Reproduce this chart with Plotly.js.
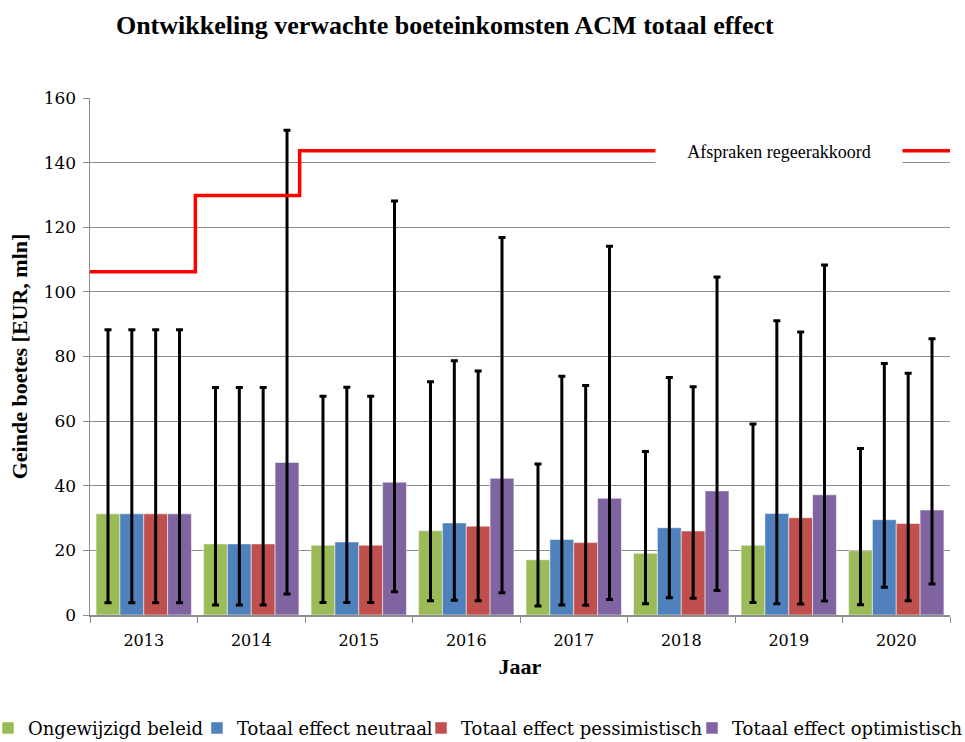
<!DOCTYPE html>
<html>
<head>
<meta charset="utf-8">
<script src="https://cdn.plot.ly/plotly-3.0.1.min.js"></script>
<style>html,body{margin:0;padding:0;background:#fff;}#chart{width:965px;height:742px;}</style>
</head>
<body>
<div id="chart"></div>
<script>
// ---- data ----
const years = [2013, 2014, 2015, 2016, 2017, 2018, 2019, 2020];
const yearLabels = ['2013', '2014', '2015', '2016', '2017', '2018', '2019', '2020'];

const ongewijzigd     = [31.3, 22.0, 21.6, 26.1, 17.1, 19.1, 21.6, 19.9];
const ongewijzigdLow  = [3.8, 3.1, 3.9, 4.4, 2.8, 3.5, 3.9, 3.2];
const ongewijzigdHigh = [88.3, 70.4, 67.7, 72.2, 46.7, 50.6, 59.1, 51.5];

const neutraal     = [31.3, 22.0, 22.6, 28.5, 23.4, 27.0, 31.4, 29.5];
const neutraalLow  = [3.8, 3.1, 3.9, 4.6, 3.1, 5.3, 3.5, 8.6];
const neutraalHigh = [88.3, 70.4, 70.5, 78.7, 73.9, 73.5, 91.1, 77.8];

const pessimistisch     = [31.3, 22.0, 21.6, 27.5, 22.4, 26.0, 30.1, 28.3];
const pessimistischLow  = [3.8, 3.1, 3.9, 4.4, 3.0, 5.2, 3.4, 4.4];
const pessimistischHigh = [88.3, 70.4, 67.7, 75.5, 71.0, 70.6, 87.6, 74.8];

const optimistisch     = [31.3, 47.2, 41.1, 42.3, 36.1, 38.4, 37.2, 32.5];
const optimistischLow  = [3.8, 6.5, 7.2, 6.9, 4.8, 7.6, 4.3, 9.6];
const optimistischHigh = [88.3, 150.0, 128.1, 116.8, 114.1, 104.6, 108.3, 85.5];

// "Afspraken regeerakkoord" step line
const regeerX = [2012.5, 2013.48, 2014.45, 2020.5];
const regeerY = [106.2, 129.8, 143.7, 143.7];

// ---- build ----
function barTrace(name, vals, lo, hi, color, legendId) {
  return {
    type: 'bar', name: name, x: years, y: vals, legend: legendId,
    marker: {color: color, line: {color: 'rgba(255,255,255,0.5)', width: 1}},
    error_y: {
      type: 'data', symmetric: false,
      array: hi.map((h, i) => h - vals[i]),
      arrayminus: lo.map((l, i) => vals[i] - l),
      color: '#000', thickness: 3, width: 3.5
    },
    hoverinfo: 'y'
  };
}

const traces = [
  barTrace('Ongewijzigd beleid', ongewijzigd, ongewijzigdLow, ongewijzigdHigh, '#9BBB59', 'legend'),
  barTrace('Totaal effect neutraal', neutraal, neutraalLow, neutraalHigh, '#4F81BD', 'legend2'),
  barTrace('Totaal effect pessimistisch', pessimistisch, pessimistischLow, pessimistischHigh, '#C0504D', 'legend3'),
  barTrace('Totaal effect optimistisch', optimistisch, optimistischLow, optimistischHigh, '#8064A2', 'legend4'),
  {
    type: 'scatter', mode: 'lines', name: 'Afspraken regeerakkoord',
    x: regeerX, y: regeerY, line: {color: '#FF0000', width: 3.5, shape: 'hv'},
    showlegend: false
  }
];

const serif = 'Liberation Serif, serif';
const dvs = 'DejaVu Serif, serif';
function legendAt(x) {
  return {
    orientation: 'h', x: x, xanchor: 'left', y: -0.219, yanchor: 'middle',
    font: {family: dvs, size: 18, color: '#000'},
    itemwidth: 30, bgcolor: 'rgba(0,0,0,0)', borderwidth: 0
  };
}

const layout = {
  width: 965, height: 742,
  margin: {l: 90, r: 15, t: 98, b: 127, autoexpand: false},
  paper_bgcolor: '#fff', plot_bgcolor: '#fff',
  barmode: 'group', bargap: 0.113, bargroupgap: 0,
  title: {
    text: '<b>Ontwikkeling verwachte boeteinkomsten ACM totaal effect</b>',
    font: {family: serif, size: 26, color: '#000'},
    x: 0.461, xanchor: 'center', y: 0.967, yanchor: 'middle'
  },
  xaxis: {
    range: [2012.5, 2020.5],
    tickmode: 'array', tickvals: years, ticktext: yearLabels,
    ticks: '', showgrid: false, zeroline: false,
    showline: true, linecolor: '#8c8c8c', linewidth: 1.5,
    tickfont: {family: dvs, size: 16, color: '#000'},
    ticklabelstandoff: 10,
    minor: {tickmode: 'linear', tick0: 2012.5, dtick: 1, ticks: 'outside', ticklen: 6, tickcolor: '#8c8c8c', tickwidth: 1, showgrid: false},
    title: {text: '<b>Jaar</b>', font: {family: serif, size: 22, color: '#000'}, standoff: 10}
  },
  yaxis: {
    range: [0, 160], tickmode: 'linear', tick0: 0, dtick: 20,
    ticks: 'outside', ticklen: 6, tickcolor: '#8c8c8c',
    showgrid: true, gridcolor: '#8c8c8c', gridwidth: 1.2,
    zeroline: false, showline: true, linecolor: '#8c8c8c', linewidth: 1.5,
    tickfont: {family: dvs, size: 17, color: '#000'},
    ticklabelstandoff: 3,
    title: {text: '<b>Geinde boetes [EUR, mln]</b>', font: {family: serif, size: 22, color: '#000'}, standoff: 10}
  },
  legend: legendAt(-0.1186),
  legend2: legendAt(0.1244),
  legend3: legendAt(0.3849),
  legend4: legendAt(0.70),
  annotations: [{
    xref: 'paper', yref: 'paper', x: 0.801, y: 0.8956,
    xanchor: 'center', yanchor: 'middle',
    text: 'Afspraken regeerakkoord', showarrow: false,
    font: {family: serif, size: 18, color: '#000'},
    bgcolor: '#fff', width: 244, height: 30, align: 'center'
  }],
  showlegend: true
};

Plotly.newPlot('chart', traces, layout, {displayModeBar: false, staticPlot: true});
</script>
</body>
</html>
